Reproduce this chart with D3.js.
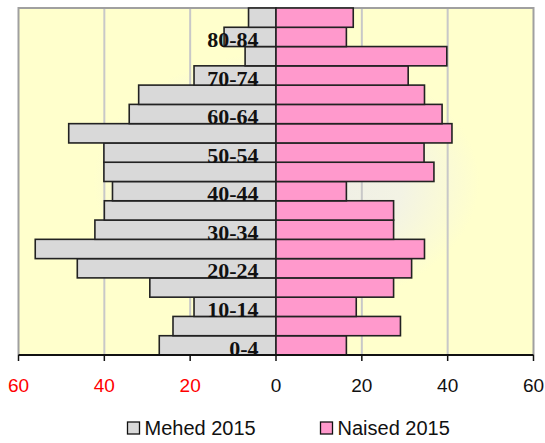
<!DOCTYPE html>
<html>
<head>
<meta charset="utf-8">
<script src="https://cdn.jsdelivr.net/npm/d3@7"></script>
<style>
  html, body { margin: 0; padding: 0; background: #fff; }
  svg { display: block; }
</style>
</head>
<body>
<svg id="chart" width="545" height="443"></svg>
<script>
// ---- data ----
const ageGroups = ["0-4","5-9","10-14","15-19","20-24","25-29","30-34","35-39","40-44",
                   "45-49","50-54","55-59","60-64","65-69","70-74","75-79","80-84","85+"];
const males   = [27.2, 24.0, 19.1, 29.4, 46.3, 56.1, 42.2, 40.0, 38.1, 40.1, 40.1, 48.3, 34.2, 32.0, 19.1, 7.2, 12.1, 6.4];
const females = [16.4, 29.0, 18.7, 27.4, 31.6, 34.6, 27.4, 27.4, 16.4, 36.8, 34.5, 41.0, 38.7, 34.6, 30.8, 39.8, 16.4, 18.0];
const xTicks = [-60, -40, -20, 0, 20, 40, 60];
const shownLabels = ["0-4","10-14","20-24","30-34","40-44","50-54","60-64","70-74","80-84"];
const seriesNames = ["Mehed 2015", "Naised 2015"];
const seriesColors = ["#D9D9D9", "#FF99CC"];

// ---- layout ----
const svg = d3.select("#chart");
const plot = { left: 18.5, right: 533.5, top: 8, bottom: 355 };

const x = d3.scaleLinear().domain([-60, 60]).range([plot.left, plot.right]);
const y = d3.scaleBand().domain(ageGroups.slice().reverse()).range([plot.top, plot.bottom]).padding(0);

// background gradient
const defs = svg.append("defs");
const grad = defs.append("radialGradient").attr("id", "bg")
  .attr("cx", "0.52").attr("cy", "0.5").attr("r", "0.5");
grad.append("stop").attr("offset", "0%").attr("stop-color", "#EDEDE6");
grad.append("stop").attr("offset", "45%").attr("stop-color", "#F3F3E4");
grad.append("stop").attr("offset", "75%").attr("stop-color", "#FFFFCC");
grad.append("stop").attr("offset", "100%").attr("stop-color", "#FFFFCC");

svg.append("rect")
  .attr("x", plot.left).attr("y", plot.top)
  .attr("width", plot.right - plot.left).attr("height", plot.bottom - plot.top)
  .attr("fill", "url(#bg)");

// gridlines
svg.append("g").selectAll("line")
  .data(xTicks.filter(d => d !== 0 && Math.abs(d) !== 60))
  .join("line")
  .attr("x1", d => x(d)).attr("x2", d => x(d))
  .attr("y1", plot.top).attr("y2", plot.bottom)
  .attr("stroke", "#C8C8C8").attr("stroke-width", 2);

// plot border (left, top, right)
svg.append("path")
  .attr("d", `M${plot.left},${plot.bottom} V${plot.top} H${plot.right} V${plot.bottom}`)
  .attr("fill", "none").attr("stroke", "#A0A0A0").attr("stroke-width", 2);

// bars
const rows = ageGroups.map((g, i) => ({ g, m: males[i], f: females[i] }));
const bars = svg.append("g");
bars.selectAll("rect.m").data(rows).join("rect").attr("class", "m")
  .attr("x", d => x(-d.m)).attr("width", d => x(0) - x(-d.m))
  .attr("y", d => y(d.g)).attr("height", y.bandwidth())
  .attr("fill", seriesColors[0]).attr("stroke", "#222").attr("stroke-width", 1.6);
bars.selectAll("rect.f").data(rows).join("rect").attr("class", "f")
  .attr("x", x(0)).attr("width", d => x(d.f) - x(0))
  .attr("y", d => y(d.g)).attr("height", y.bandwidth())
  .attr("fill", seriesColors[1]).attr("stroke", "#222").attr("stroke-width", 1.6);

// category labels
svg.append("g").selectAll("text")
  .data(shownLabels)
  .join("text")
  .attr("x", x(0) - 17.5)
  .attr("y", d => y(d) + y.bandwidth() + 0.5)
  .attr("text-anchor", "end")
  .attr("font-family", "'Liberation Serif', 'Times New Roman', serif")
  .attr("font-weight", "bold")
  .attr("font-size", 22)
  .attr("fill", "#111")
  .text(d => d);

// x axis
const axisG = svg.append("g").attr("transform", `translate(0,${plot.bottom})`);
axisG.append("line").attr("x1", plot.left).attr("x2", plot.right)
  .attr("y1", 0).attr("y2", 0).attr("stroke", "#111").attr("stroke-width", 2);
axisG.selectAll("line.tick").data(xTicks).join("line").attr("class", "tick")
  .attr("x1", d => x(d)).attr("x2", d => x(d)).attr("y1", 0).attr("y2", 6)
  .attr("stroke", "#111").attr("stroke-width", 1.5);
axisG.selectAll("text").data(xTicks).join("text")
  .attr("x", d => x(d)).attr("y", 37)
  .attr("text-anchor", "middle")
  .attr("font-family", "'Liberation Sans', Arial, sans-serif")
  .attr("font-size", 19)
  .attr("fill", d => d < 0 ? "#FF0000" : "#111")
  .text(d => Math.abs(d));

// legend
const legendX = [127.5, 320.5];
const leg = svg.append("g");
seriesNames.forEach((name, i) => {
  leg.append("rect").attr("x", legendX[i]).attr("y", 422)
    .attr("width", 12).attr("height", 12)
    .attr("fill", seriesColors[i]).attr("stroke", "#111").attr("stroke-width", 1.3);
  leg.append("text").attr("x", legendX[i] + 17).attr("y", 435)
    .attr("font-family", "'Liberation Sans', Arial, sans-serif")
    .attr("font-size", 20).attr("fill", "#111")
    .text(name);
});
</script>
</body>
</html>
